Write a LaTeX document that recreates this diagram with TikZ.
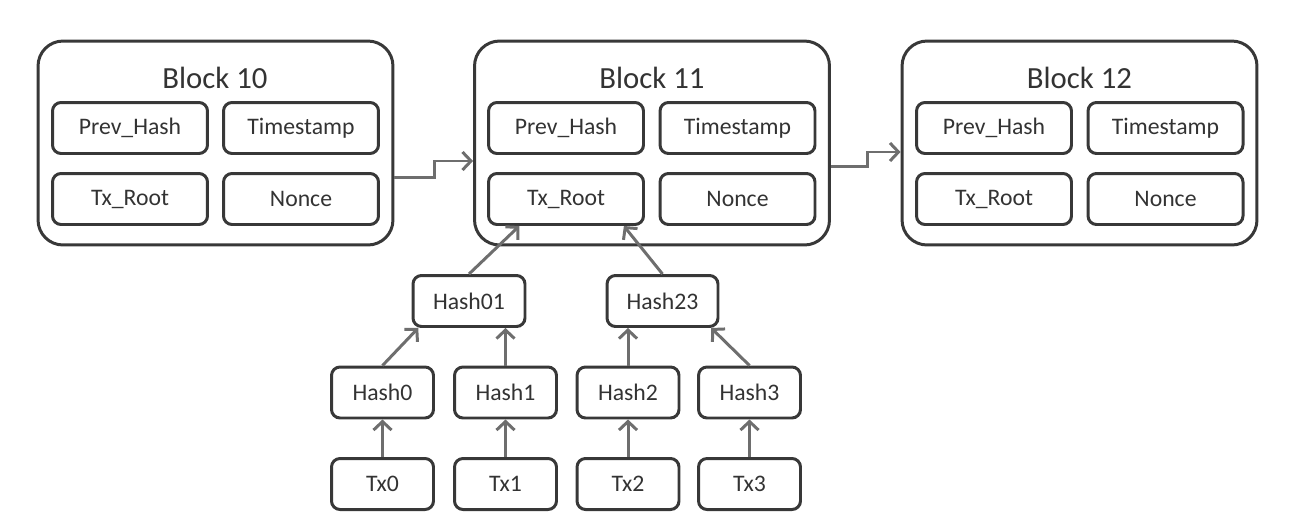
\documentclass[tikz,border=0pt]{standalone}
\usepackage{fontspec}
\setmainfont{Carlito}
\usetikzlibrary{arrows.meta,positioning,calc}

\definecolor{boxline}{HTML}{383838}
\definecolor{linkgray}{HTML}{6E6E6E}
\definecolor{txtgray}{HTML}{333333}

\begin{document}
\begin{tikzpicture}[
  x=0.02cm, y=-0.02cm,
  font=\fontsize{13.5}{16}\selectfont,
  >={Straight Barb[length=1.7mm,width=3.6mm]},
  block/.style={rectangle, rounded corners=0.5cm, draw=boxline, line width=1.7pt, minimum width=7.1cm, minimum height=4.08cm},
  title/.style={font=\fontsize{17.5}{20}\selectfont, text=txtgray},
  field/.style={rectangle, rounded corners=0.17cm, draw=boxline, line width=1.7pt, minimum width=3.1cm, minimum height=1.02cm, text=txtgray},
  hashbox/.style={field, minimum width=2.04cm},
  link/.style={->, line width=1.7pt, draw=linkgray}
]
\useasboundingbox (0,0) rectangle (1300,528);

% chain of blocks
\node[block] (b10) at (215.5,143) {};
\node[block] (b11) at (652,143) {};
\node[block] (b12) at (1079.5,143) {};
\node[title] (t10) at (215,78) {Block 10};
\node[title] (t11) at (652,78) {Block 11};
\node[title] (t12) at (1079.5,78) {Block 12};

\node[field] (prev10) at (130,128) {Prev\_Hash};
\node[field] (time10) at (301,128) {Timestamp};
\node[field] (root10) at (130,199) {Tx\_Root};
\node[field] (nonce10) at (301,199) {Nonce};

\node[field] (prev11) at (566,128) {Prev\_Hash};
\node[field] (time11) at (737.5,128) {Timestamp};
\node[field] (root11) at (566,199) {Tx\_Root};
\node[field] (nonce11) at (737.5,199) {Nonce};

\node[field] (prev12) at (994,128) {Prev\_Hash};
\node[field] (time12) at (1165.5,128) {Timestamp};
\node[field] (root12) at (994,199) {Tx\_Root};
\node[field] (nonce12) at (1165.5,199) {Nonce};

% merkle tree
\node[hashbox, minimum width=2.24cm] (h01) at (469,301) {Hash01};
\node[hashbox, minimum width=2.22cm] (h23) at (662.5,301) {Hash23};
\node[hashbox] (h0) at (382.5,392.5) {Hash0};
\node[hashbox] (h1) at (505.5,392.5) {Hash1};
\node[hashbox] (h2) at (628,392.5) {Hash2};
\node[hashbox] (h3) at (749.5,392.5) {Hash3};
\node[hashbox] (tx0) at (382.5,484) {Tx0};
\node[hashbox] (tx1) at (505.5,484) {Tx1};
\node[hashbox] (tx2) at (628,484) {Tx2};
\node[hashbox] (tx3) at (749.5,484) {Tx3};

\draw[link] ($(b10.east)+(0,34)$) -- ++(40,0) |- ($(b11.west)+(0,18)$);
\draw[link] ($(b11.east)+(0,23)$) -- ++(37,0) |- ($(b12.west)+(0,9)$);

\draw[link] (tx0) -- (h0);
\draw[link] (tx1) -- (h1);
\draw[link] (tx2) -- (h2);
\draw[link] (tx3) -- (h3);
\draw[link] (h0.north) -- (h01.208);
\draw[link] (h1.north) -- (h1.north |- h01.south);
\draw[link] (h2.north) -- (h2.north |- h23.south);
\draw[link] (h3.north) -- (h23.331);
\draw[link] (h01.north) -- (root11.210);
\draw[link] (h23.north) -- (root11.335);
\end{tikzpicture}
\end{document}
